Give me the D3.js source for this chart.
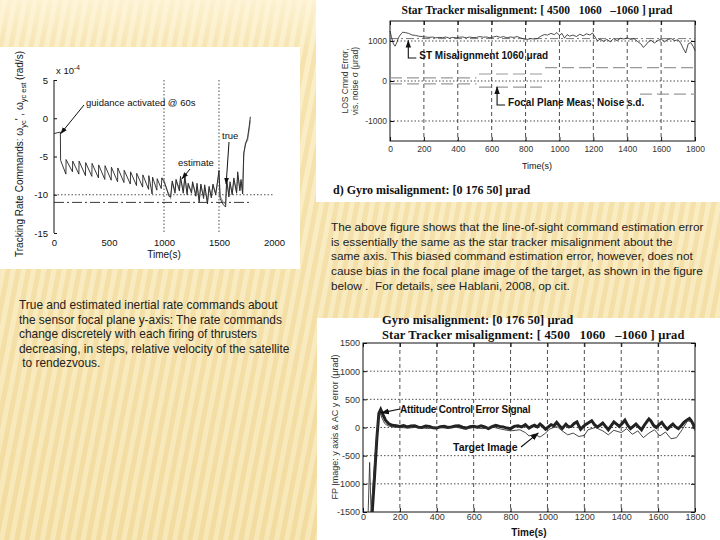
<!DOCTYPE html>
<html>
<head>
<meta charset="utf-8">
<script src="https://cdn.jsdelivr.net/npm/d3@7"></script>
<style>
  body { margin: 0; }
  svg { display: block; }
  text { font-family: "Liberation Sans", Arial, sans-serif; fill: #111; }
  .serif { font-family: "Liberation Serif", "Times New Roman", serif; font-weight: bold; }
  .axis path { display: none; }
  .axis line { stroke: #111; }
</style>
</head>
<body>
<svg id="slide" width="720" height="540"></svg>
<script>
// ---- left chart: tracking rate commands (x 1e-4 rad/s) ----
const rateTrue = [[0,-2.0],[58,-1.8],[60,-5.5],[108,-7.3],[110,-5.4],[168,-7.0],[170,-5.6],[226,-7.3],
  [228,-5.6],[286,-7.5],[288,-5.8],[344,-7.6],[346,-5.9],[404,-7.8],[406,-6.1],[462,-8.0],[464,-6.2],
  [520,-8.1],[522,-6.4],[578,-8.3],[580,-6.5],[636,-8.4],[638,-6.8],[694,-8.6],[696,-7.0],[750,-8.8],
  [752,-7.2],[806,-9.0],[808,-7.4],[860,-9.3],[862,-7.5],[892,-9.9],[896,-7.7],[935,-9.4],[938,-7.9],
  [975,-9.2],[980,-7.8],[1000,-8.3],[1020,-9.0],[1045,-10.2],[1060,-10.3],[1075,-8.2],[1100,-9.8],
  [1110,-8.0],[1140,-9.5],[1150,-7.6],[1175,-9.8],[1190,-7.7],[1210,-10.0],[1220,-8.5],[1250,-9.8],
  [1260,-8.3],[1290,-10.2],[1300,-8.5],[1320,-11.0],[1335,-8.6],[1360,-10.5],[1370,-8.7],[1395,-11.2],
  [1410,-8.9],[1430,-10.4],[1445,-8.6],[1470,-10.0],[1485,-8.4],[1500,-6.8],[1510,-10.5],[1540,-11.3],
  [1560,-11.6],[1570,-8.0],[1590,-10.3],[1600,-8.3],[1620,-10.0],[1635,-7.8],[1660,-9.8],[1670,-7.0],
  [1690,-9.5],[1700,-8.0],[1715,-9.9],[1725,-4.5],[1740,-3.5],[1760,-2.5],[1775,-1.0],[1785,0.2]];
const rateEst = [[980,-7.8],[1000,-8.0],[1020,-9.2],[1045,-9.9],[1060,-10.4],[1075,-8.4],[1100,-9.5],
  [1110,-8.2],[1140,-9.2],[1150,-7.9],[1175,-9.5],[1190,-7.5],[1210,-9.7],[1220,-8.7],[1250,-9.6],
  [1260,-8.5],[1290,-10.0],[1300,-8.8],[1320,-10.7],[1335,-8.8],[1360,-10.2],[1370,-9.0],[1395,-10.9],
  [1410,-9.1],[1430,-10.2],[1445,-8.8],[1470,-9.8],[1485,-8.6],[1500,-7.2],[1510,-10.2],[1540,-11.0],
  [1560,-11.2],[1570,-8.3],[1590,-10.0],[1600,-8.6],[1620,-9.8],[1635,-8.1],[1660,-9.6],[1670,-7.4],
  [1690,-9.3],[1700,-8.2],[1715,-9.6],[1725,-5.0],[1740,-3.2],[1760,-2.9],[1775,-1.4],[1785,-0.3]];
const rateTicksY = [5, 0, -5, -10, -15];
const rateTicksX = [0, 500, 1000, 1500, 2000];
const rateVLines = [1000, 1500];

// ---- top right: LOS command error (urad) ----
const losErr = [[0,1250],[10,1080],[20,930],[30,870],[40,960],[50,1080],[60,1150],[75,1220],[90,1210],
  [110,1190],[130,1150],[150,1140],[170,1120],[190,1110],[210,1100],[230,1090],[250,1100],[270,1080],
  [290,1090],[310,1085],[330,1100],[350,1070],[370,1090],[390,1080],[410,1095],[430,1100],[450,1080],
  [470,1100],[490,1085],[510,1090],[530,1110],[550,1095],[570,1100],[590,1080],[610,1100],[630,1120],
  [650,1090],[670,1110],[690,1080],[710,1100],[730,1090],[750,1110],[770,1080],[790,1050],[810,1040],
  [830,1060],[850,1050],[870,1060],[890,1120],[910,1160],[930,1150],[950,1190],[970,1160],[985,1210],
  [1000,1140],[1015,1190],[1030,1070],[1045,1160],[1060,1120],[1080,1150],[1100,1110],[1120,1170],
  [1140,1130],[1160,1180],[1180,1150],[1195,1200],[1210,1100],[1225,1000],[1240,1050],[1260,990],
  [1280,1040],[1300,980],[1320,1060],[1340,1010],[1360,1070],[1380,1050],[1400,1080],[1420,1040],
  [1440,1060],[1460,990],[1480,930],[1495,840],[1510,900],[1525,980],[1540,1020],[1560,950],[1580,1010],
  [1600,1050],[1620,980],[1640,1040],[1660,1060],[1680,1010],[1700,1030],[1715,950],[1730,820],
  [1745,700],[1760,930],[1775,960],[1790,860],[1800,760]];
const losRef = 1060;
const noiseUpper = [[[0,80],[510,80]],[[525,175],[905,175]],[[915,335],[1800,335]]];
const noiseLower = [[[0,-70],[510,-70]],[[525,-155],[905,-155]],[[1475,-330],[1800,-330]]];
const losTicksY = [-1000, 0, 1000];
const timeTicks = [0, 200, 400, 600, 800, 1000, 1200, 1400, 1600, 1800];

// ---- bottom right: FP image y axis & AC y error (urad) ----
const acErr = [[50,-1500],[62,-900],[75,-200],[86,250],[96,320],[108,230],[122,130],[138,70],[158,40],
  [180,30],[200,20],[220,35],[240,10],[260,25],[280,30],[300,5],[320,0],[340,25],[360,20],[380,-5],
  [400,-10],[420,15],[440,20],[460,0],[480,10],[500,25],[520,30],[540,5],[560,-10],[580,15],[600,20],
  [620,5],[640,30],[660,10],[680,-20],[700,15],[720,40],[740,20],[760,10],[780,-10],[800,-20],[820,20],
  [840,30],[860,10],[880,50],[900,-10],[915,20],[930,40],[945,10],[960,60],[975,20],[990,-30],[1005,10],
  [1020,50],[1035,30],[1050,90],[1065,30],[1080,-20],[1100,60],[1115,10],[1130,20],[1145,70],[1160,100],
  [1170,30],[1180,-30],[1195,20],[1210,60],[1225,90],[1240,120],[1255,50],[1270,10],[1285,40],[1300,80],
  [1315,20],[1330,-40],[1345,30],[1360,100],[1375,60],[1390,20],[1405,70],[1420,130],[1435,40],
  [1450,-20],[1465,20],[1480,60],[1495,10],[1510,-40],[1525,40],[1540,110],[1550,150],[1560,120],
  [1575,40],[1590,0],[1605,50],[1620,90],[1635,20],[1650,-30],[1665,20],[1680,60],[1695,10],
  [1710,-20],[1725,30],[1740,90],[1755,130],[1770,160],[1780,120],[1790,60],[1800,-20]];
const targetImg = [[28,-1500],[36,-620],[44,-1500],[55,-1000],[70,-300],[84,180],[94,250],[104,160],
  [118,70],[135,30],[160,10],[200,0],[250,-10],[300,10],[350,-20],[400,0],[450,-10],[500,10],[550,-30],
  [600,0],[650,-20],[700,10],[750,-30],[800,-60],[850,-40],[880,-90],[900,-150],[930,-120],[960,-170],
  [990,-100],[1010,-30],[1050,20],[1080,-60],[1110,-130],[1140,-100],[1170,-160],[1200,-140],[1220,-40],
  [1260,0],[1300,-60],[1330,-130],[1360,-50],[1400,-90],[1430,-20],[1460,-120],[1490,-60],[1520,-180],
  [1550,-100],[1580,-40],[1610,-150],[1640,-80],[1670,-200],[1700,-180],[1730,-40],[1760,120],
  [1780,100],[1800,-60]];
const fpTicksY = [-1500, -1000, -500, 0, 500, 1000, 1500];

// ---- slide text ----
const textRight = [
  "The above figure shows that the line-of-sight command estimation error",
  "is essentially the same as the star tracker misalignment about the",
  "same axis. This biased command estimation error, however, does not",
  "cause bias in the focal plane image of the target, as shown in the figure",
  "below .  For details, see Hablani, 2008, op cit."];
const textLeft = [
  "True and estimated inertial rate commands about",
  "the sensor focal plane y-axis: The rate commands",
  "change discretely with each firing of thrusters",
  "decreasing, in steps, relative velocity of the satellite",
  " to rendezvous."];

const plain = d => String(d);
const svg = d3.select("#slide");
const defs = svg.append("defs");

// striped cream background
const pat = defs.append("pattern").attr("id", "stripes")
  .attr("patternUnits", "userSpaceOnUse").attr("width", 10).attr("height", 10)
  .attr("patternTransform", "rotate(11)");
pat.append("rect").attr("width", 10).attr("height", 10).attr("fill", "#f4dfa6");
pat.append("rect").attr("x", 2).attr("width", 5).attr("height", 10).attr("fill", "#faedc4");
const grad = defs.append("linearGradient").attr("id", "fade").attr("x1", 0).attr("y1", 0).attr("x2", 0).attr("y2", 1);
grad.append("stop").attr("offset", "0").attr("stop-color", "#fff8e0").attr("stop-opacity", 0.75);
grad.append("stop").attr("offset", "0.1").attr("stop-color", "#fff8e0").attr("stop-opacity", 0.15);
grad.append("stop").attr("offset", "1").attr("stop-color", "#e8c878").attr("stop-opacity", 0.15);

const arrow = defs.append("marker").attr("id", "arrow").attr("viewBox", "0 0 10 10")
  .attr("refX", 9).attr("refY", 5).attr("markerWidth", 7).attr("markerHeight", 7)
  .attr("orient", "auto-start-reverse");
arrow.append("path").attr("d", "M0,1.5L10,5L0,8.5Z").attr("fill", "#111");

svg.append("rect").attr("width", 720).attr("height", 540).attr("fill", "url(#stripes)");
svg.append("rect").attr("width", 720).attr("height", 540).attr("fill", "url(#fade)");

// white picture panels
[[0, 47, 300, 222], [316, 0, 404, 202], [317, 318, 403, 222]].forEach(p =>
  svg.append("rect").attr("x", p[0]).attr("y", p[1]).attr("width", p[2]).attr("height", p[3]).attr("fill", "#fff"));

// ===== left chart =====
{
  const g = svg.append("g");
  const x = d3.scaleLinear().domain([0, 2000]).range([54, 274]);
  const y = d3.scaleLinear().domain([-15, 5]).range([233, 80]);

  g.selectAll(".vl").data(rateVLines).join("line")
    .attr("x1", d => x(d)).attr("x2", d => x(d)).attr("y1", y(5)).attr("y2", y(-15))
    .attr("stroke", "#222").attr("stroke-width", 0.8).attr("stroke-dasharray", "1.5,2");
  g.append("line").attr("x1", x(0)).attr("x2", x(2000)).attr("y1", y(-10)).attr("y2", y(-10))
    .attr("stroke", "#222").attr("stroke-width", 0.8).attr("stroke-dasharray", "1.5,2");
  g.append("line").attr("x1", x(0)).attr("x2", x(1785)).attr("y1", y(-11)).attr("y2", y(-11))
    .attr("stroke", "#222").attr("stroke-width", 0.9).attr("stroke-dasharray", "10,3,2,3");

  const ax = g.append("g").attr("class", "axis").attr("transform", `translate(${x(0)},0)`)
    .call(d3.axisLeft(y).tickValues(rateTicksY).tickFormat(plain).tickSize(-3).tickPadding(6));
  ax.append("line").attr("x1", 0).attr("x2", 0).attr("y1", y(5)).attr("y2", y(-15)).attr("stroke", "#111");
  ax.selectAll("text").attr("font-size", 9.5);
  const bx = g.append("g").attr("class", "axis").attr("transform", `translate(0,${y(-15)})`)
    .call(d3.axisBottom(x).tickValues(rateTicksX).tickFormat(plain).tickSize(0).tickPadding(6));
  bx.selectAll("text").attr("font-size", 9.5);

  const line = d3.line().x(d => x(d[0])).y(d => y(d[1]));
  g.append("path").datum(rateEst).attr("d", line).attr("fill", "none").attr("stroke", "#999").attr("stroke-width", 1.1);
  g.append("path").datum(rateTrue).attr("d", line).attr("fill", "none").attr("stroke", "#222").attr("stroke-width", 0.9);

  const xt = g.append("text").attr("x", 56).attr("y", 74).attr("font-size", 9.5).text("x 10");
  xt.append("tspan").attr("dy", -4).attr("font-size", 6.5).text("-4");
  g.append("text").attr("x", x(1000)).attr("y", 258).attr("text-anchor", "middle").attr("font-size", 10).text("Time(s)");

  const yl = g.append("text").attr("transform", "translate(23,154) rotate(-90)").attr("text-anchor", "middle").attr("font-size", 10);
  yl.append("tspan").text("Tracking Rate Commands:  ω");
  yl.append("tspan").attr("dy", 3).attr("font-size", 7.5).text("yc");
  yl.append("tspan").attr("dy", -3).text("' , ω");
  yl.append("tspan").attr("dy", 3).attr("font-size", 7.5).text("yc est");
  yl.append("tspan").attr("dy", -3).text(" (rad/s)");

  g.append("text").attr("x", 86).attr("y", 106).attr("font-size", 9.5).text("guidance activated @ 60s");
  g.append("line").attr("x1", 84).attr("y1", 105).attr("x2", x(62)).attr("y2", y(-2.0))
    .attr("stroke", "#111").attr("marker-end", "url(#arrow)");
  g.append("text").attr("x", 222).attr("y", 139).attr("font-size", 9.5).text("true");
  g.append("line").attr("x1", 229).attr("y1", 142).attr("x2", x(1565)).attr("y2", y(-8.6))
    .attr("stroke", "#111").attr("marker-end", "url(#arrow)");
  g.append("text").attr("x", 178).attr("y", 166).attr("font-size", 9.5).text("estimate");
  g.append("line").attr("x1", 190).attr("y1", 169).attr("x2", x(1165)).attr("y2", y(-7.9))
    .attr("stroke", "#111").attr("marker-end", "url(#arrow)");
}

// boxed matlab-style frame with grid
function boxFrame(g, x, y, yTicks, yGrid, fs, pad) {
  const [l, r] = x.range(), [b, t] = y.range();
  g.selectAll(".vg").data(timeTicks.slice(1, -1)).join("line")
    .attr("x1", d => x(d)).attr("x2", d => x(d)).attr("y1", t).attr("y2", b)
    .attr("stroke", "#222").attr("stroke-width", 0.8).attr("stroke-dasharray", "4,3");
  g.selectAll(".hg").data(yGrid).join("line")
    .attr("x1", l).attr("x2", r).attr("y1", d => y(d)).attr("y2", d => y(d))
    .attr("stroke", "#222").attr("stroke-width", 0.8).attr("stroke-dasharray", "1.5,2");
  const bx = g.append("g").attr("class", "axis").attr("transform", `translate(0,${b})`)
    .call(d3.axisBottom(x).tickValues(timeTicks).tickFormat(plain).tickSize(-4).tickPadding(pad));
  bx.selectAll("text").attr("font-size", fs).style("fill", "#333");
  g.append("g").attr("class", "axis").attr("transform", `translate(0,${t})`)
    .call(d3.axisTop(x).tickValues(timeTicks).tickSize(-4).tickFormat(""));
  const ly = g.append("g").attr("class", "axis").attr("transform", `translate(${l},0)`)
    .call(d3.axisLeft(y).tickValues(yTicks).tickFormat(plain).tickSize(-4).tickPadding(3));
  ly.selectAll("text").attr("font-size", fs).style("fill", "#333");
  g.append("g").attr("class", "axis").attr("transform", `translate(${r},0)`)
    .call(d3.axisRight(y).tickValues(yTicks).tickSize(-4).tickFormat(""));
  g.append("rect").attr("x", l).attr("y", t).attr("width", r - l).attr("height", b - t)
    .attr("fill", "none").attr("stroke", "#111").attr("stroke-width", 1);
}

// ===== top right chart =====
{
  const g = svg.append("g");
  const x = d3.scaleLinear().domain([0, 1800]).range([390, 695]);
  const y = d3.scaleLinear().domain([-1500, 1500]).range([141, 21]);
  boxFrame(g, x, y, losTicksY, losTicksY, 8.5, 5);

  const line = d3.line().x(d => x(d[0])).y(d => y(d[1]));
  g.selectAll(".nz").data(noiseUpper.concat(noiseLower)).join("path")
    .attr("d", line).attr("fill", "none").attr("stroke", "#999").attr("stroke-width", 1.2)
    .attr("stroke-dasharray", "12,5");
  g.append("line").attr("x1", x(0)).attr("x2", x(1800)).attr("y1", y(losRef)).attr("y2", y(losRef))
    .attr("stroke", "#555").attr("stroke-width", 0.8).attr("stroke-dasharray", "8,3,2,3");
  g.append("path").datum(losErr).attr("d", line).attr("fill", "none").attr("stroke", "#222").attr("stroke-width", 0.8);

  g.append("text").attr("class", "serif").attr("x", 537).attr("y", 14).attr("text-anchor", "middle")
    .attr("font-size", 11.5).style("white-space", "pre")
    .text("Star Tracker misalignment: [ 4500   1060   \u20131060 ] \u03bcrad");
  g.append("text").attr("x", 537).attr("y", 169).attr("text-anchor", "middle").attr("font-size", 9).text("Time(s)");
  g.append("text").attr("transform", "translate(348,81) rotate(-90)").attr("text-anchor", "middle")
    .attr("font-size", 8.5).style("fill", "#333").text("LOS Cmnd Error,");
  g.append("text").attr("transform", "translate(358,81) rotate(-90)").attr("text-anchor", "middle")
    .attr("font-size", 8.5).style("fill", "#333").text("vis. noise \u03c3 (\u03bcrad)");

  // annotations
  g.append("path").attr("d", `M${x(108) + 8},${58}H${x(108)}V${y(1010)}`)
    .attr("fill", "none").attr("stroke", "#111").attr("stroke-width", 1.1).attr("marker-end", "url(#arrow)");
  g.append("text").attr("x", x(108) + 11).attr("y", 59).attr("font-size", 10).attr("font-weight", "bold")
    .text("ST Misalignment 1060 \u03bcrad");
  g.append("path").attr("d", `M${x(632) + 8},${105}H${x(632)}V${y(-150)}`)
    .attr("fill", "none").attr("stroke", "#111").attr("stroke-width", 1.1).attr("marker-end", "url(#arrow)");
  g.append("text").attr("x", x(632) + 11).attr("y", 106).attr("font-size", 10).attr("font-weight", "bold")
    .text("Focal Plane Meas. Noise s.d.");

  g.append("text").attr("class", "serif").attr("x", 333).attr("y", 194).attr("font-size", 12)
    .text("d) Gyro misalignment: [0 176 50] \u03bcrad");
}

// ===== bottom right chart =====
{
  const g = svg.append("g");
  const x = d3.scaleLinear().domain([0, 1800]).range([363, 695]);
  const y = d3.scaleLinear().domain([-1500, 1500]).range([512, 343]);
  boxFrame(g, x, y, fpTicksY, fpTicksY.slice(1, -1), 9, 2);

  const clip = defs.append("clipPath").attr("id", "fpclip");
  clip.append("rect").attr("x", 363).attr("y", 343).attr("width", 332).attr("height", 169);
  const line = d3.line().x(d => x(d[0])).y(d => y(d[1]));
  const lines = g.append("g").attr("clip-path", "url(#fpclip)");
  lines.append("path").datum(acErr).attr("d", line).attr("fill", "none").attr("stroke", "#222").attr("stroke-width", 3);
  lines.append("path").datum(targetImg).attr("d", line).attr("fill", "none").attr("stroke", "#333").attr("stroke-width", 0.9);

  g.append("text").attr("class", "serif").attr("x", 382).attr("y", 324).attr("font-size", 12.5)
    .text("Gyro misalignment: [0 176 50] \u03bcrad");
  g.append("text").attr("class", "serif").attr("x", 382).attr("y", 339).attr("font-size", 12.5)
    .attr("letter-spacing", 0.15).style("white-space", "pre")
    .text("Star Tracker misalignment: [ 4500   1060   \u20131060 ] \u03bcrad");
  g.append("text").attr("x", 529).attr("y", 536).attr("text-anchor", "middle").attr("font-size", 10)
    .attr("font-weight", "bold").text("Time(s)");
  g.append("text").attr("transform", "translate(338,427) rotate(-90)").attr("text-anchor", "middle")
    .attr("font-size", 9).style("fill", "#333").text("FP Image: y axis & AC y error (\u03bcrad)");

  g.append("text").attr("x", 400).attr("y", 413).attr("font-size", 10).attr("font-weight", "bold")
    .attr("letter-spacing", -0.2).text("Attitude Control Error Signal");
  g.append("line").attr("x1", 400).attr("y1", 409).attr("x2", x(100)).attr("y2", y(260))
    .attr("stroke", "#111").attr("stroke-width", 1.2).attr("marker-end", "url(#arrow)");
  g.append("text").attr("x", 453).attr("y", 451).attr("font-size", 10.5).attr("font-weight", "bold")
    .text("Target Image");
  g.append("line").attr("x1", 521).attr("y1", 447).attr("x2", x(950)).attr("y2", y(-100))
    .attr("stroke", "#111").attr("stroke-width", 1.2).attr("marker-end", "url(#arrow)");
}

// ===== slide captions =====
svg.append("g").selectAll("text").data(textRight).join("text")
  .attr("x", 331).attr("y", (d, i) => 231 + i * 14.7).attr("font-size", 11.8)
  .style("white-space", "pre").style("fill", "#222").text(d => d);
svg.append("g").selectAll("text").data(textLeft).join("text")
  .attr("x", 19).attr("y", (d, i) => 309 + i * 14.5).attr("font-size", 11.9)
  .style("white-space", "pre").style("fill", "#222").text(d => d);
</script>
</body>
</html>
